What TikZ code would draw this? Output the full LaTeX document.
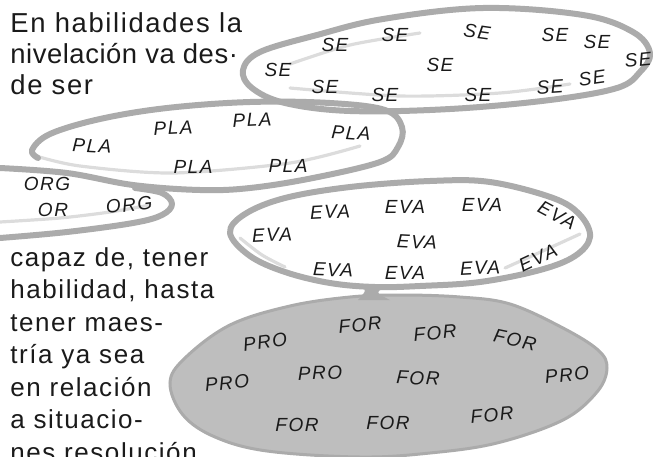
\documentclass[tikz,border=0pt]{standalone}
\usepackage{fontspec}
\usepackage{tikz}
\newfontfamily\bodyfont[LetterSpace=6]{Liberation Sans}
\newfontfamily\tagfont[LetterSpace=8]{Liberation Sans}
\definecolor{ink}{HTML}{1A1A1A}
\definecolor{pencil}{HTML}{ABABAB}
\definecolor{smudge}{HTML}{DCDCDC}
\definecolor{shade}{HTML}{BEBEBE}

\begin{document}
\begin{tikzpicture}[x=0.5pt, y=-0.5pt,
    rim/.style={draw=pencil, line width=3pt, line cap=round, line join=round},
    faint/.style={draw=smudge, line width=1.6pt, line cap=round},
    tag/.style={font=\tagfont\itshape\fontsize{9.5}{11}\selectfont, text=ink, inner sep=0pt},
    txt/.style={font=\bodyfont\fontsize{13}{15}\selectfont, text=ink, anchor=base west, inner sep=0pt},
    wide/.style={txt, font=\bodyfont\fontsize{13.7}{16}\selectfont}]
  \useasboundingbox (0,0) rectangle (654,456);
  \clip (0,0) rectangle (654,456);
  % bottom blob, filled
  \path[fill=shade, draw=pencil, line width=1.5pt] plot[smooth cycle, tension=0.6] coordinates {(170,383) (185,358) (230,325) (290,306) (350,297) (400,295) (460,297) (510,304) (563,328) (598,350) (607,368) (597,392) (563,420) (497,443) (430,453) (360,457) (267,451) (215,437) (183,415)};
  \fill[pencil] (352,284) .. controls (368,289) .. (358,300) -- (390,300) .. controls (374,292) .. (392,285) -- cycle;
  % EVA loop
  \draw[rim] plot[smooth cycle, tension=0.6] coordinates {(230,233) (245,214) (285,198) (350,187) (430,181) (490,182) (553,198) (580,215) (590,237) (575,256) (540,270) (480,282) (420,286) (375,287) (330,283) (285,272) (250,256)};
  \draw[faint] plot[smooth] coordinates {(240,238) (262,255) (285,267)};
  \draw[faint] plot[smooth] coordinates {(505,268) (545,250) (580,234)};
  % SE loop
  \draw[faint] plot[smooth] coordinates {(290,64) (350,45) (420,33)};
  \draw[faint] plot[smooth] coordinates {(290,88) (400,96) (500,93) (570,84)};
  \draw[rim] plot[smooth cycle, tension=0.6] coordinates {(243,70) (260,52) (317,35) (383,19) (483,8) (583,15) (633,32) (650,53) (640,72) (617,88) (550,100) (450,109) (350,111) (285,103) (252,88)};
  % PLA and ORG
  \draw[faint] plot[smooth] coordinates {(36,156) (80,166) (173,173) (290,163) (360,146)};
  \draw[rim] plot[smooth, tension=0.6] coordinates {(38,158) (32,150) (50,134) (100,119) (167,108) (250,102) (330,103) (385,110) (402,127) (398,147) (380,162) (313,178) (250,188) (200,190) (133,185) (67,173) (0,168)};
  \draw[faint] plot[smooth] coordinates {(0,222) (60,218) (110,212) (150,205)};
  \draw[rim] plot[smooth, tension=0.6] coordinates {(135,188) (162,193) (172,204) (162,215) (133,223) (67,232) (0,238)};
  % labels
  \foreach \x/\y/\r [count=\i] in {335/45/0, 395/35/0, 477/32/-8, 555/35/0, 597/42/0, 638/60/6,
      278/70/0, 440/65/0, 325/87/0, 385/95/0, 478/95/0, 550/87/4, 592/78/8}
    \node[tag, rotate=\r] (se\i) at (\x,\y) {SE};
  \foreach \x/\y/\r [count=\i] in {92/146/-3, 173/128/3, 252/120/3, 351/133/-4, 193/167/0, 288/166/0}
    \node[tag, rotate=\r] (pla\i) at (\x,\y) {PLA};
  \node[tag] (org1) at (47,184) {ORG};
  \node[tag] (org2) at (53,210) {OR};
  \node[tag, rotate=6] (org3) at (129,205) {ORG};
  \foreach \x/\y/\r [count=\i] in {330/212/3, 405/207/0, 482/205/0, 557/215/-28, 272/235/3,
      417/242/-3, 538/258/25, 333/270/-2, 405/273/0, 480/268/3}
    \node[tag, rotate=\r] (eva\i) at (\x,\y) {EVA};
  \foreach \x/\y/\r/\w [count=\i] in {265/342/8/PRO, 360/325/5/FOR, 435/333/5/FOR, 515/340/-12/FOR,
      227/383/5/PRO, 320/373/2/PRO, 418/378/-3/FOR, 567/375/6/PRO, 297/425/0/FOR, 388/423/0/FOR, 492/415/5/FOR}
    \node[tag, rotate=\r] (pf\i) at (\x,\y) {\w};
  % running text
  \node[wide] (hab1) at (10,32) {En habilidades la};
  \node[wide] (hab2) at (10,63) {\addfontfeature{LetterSpace=2}nivelación va des·};
  \node[wide] (hab3) at (10,94) {de ser};
  \foreach \ln [count=\i] in {{capaz de, tener}, {habilidad, hasta}, tener maes-, tría ya sea,
      en relación, a situacio-, nes resolución}
    \node[txt] (cap\i) at (10,233.5+32.5*\i) {\ln};
\end{tikzpicture}
\end{document}
